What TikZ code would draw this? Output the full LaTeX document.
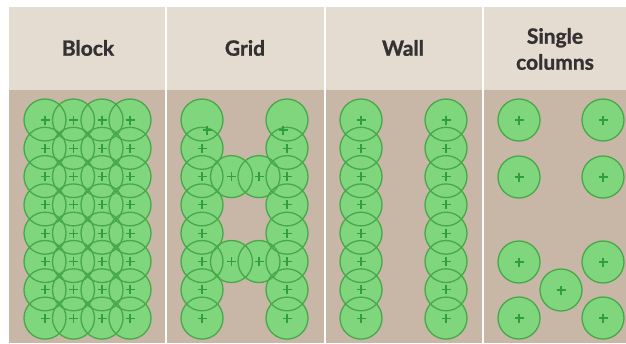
\documentclass[tikz,border=0pt]{standalone}
\usepackage{fontspec}
\setmainfont{Lato}
\newfontfamily\titlefont{Lato}[FakeBold=1.2]
\definecolor{headbg}{HTML}{E4DCD1}
\definecolor{bodybg}{HTML}{C8B7A7}
\definecolor{cfill}{HTML}{80D67C}
\definecolor{cline}{HTML}{47A84B}
\definecolor{cplus}{HTML}{2F9E3E}
\definecolor{txt}{HTML}{333131}
\tikzset{
  head/.style={fill=headbg, draw=none},
  body/.style={fill=bodybg, draw=none},
  title/.style={text=txt, font=\titlefont\bfseries\fontsize{21}{26}\selectfont, align=center, inner sep=0pt},
  pilefill/.style={fill=cfill, draw=none},
  pileline/.style={draw=cline, line width=1.3pt, fill=none},
  plusmark/.style={draw=cplus, line width=1.1pt},
}
\newcommand{\pilelist}{%
  45/120,73.5/120,102/120,130/120,
  45/148.3,73.5/148.3,102/148.3,130/148.3,
  45/176.6,73.5/176.6,102/176.6,130/176.6,
  45/204.9,73.5/204.9,102/204.9,130/204.9,
  45/233.2,73.5/233.2,102/233.2,130/233.2,
  45/261.5,73.5/261.5,102/261.5,130/261.5,
  45/289.8,73.5/289.8,102/289.8,130/289.8,
  45/318.1,73.5/318.1,102/318.1,130/318.1,
  202/120,202/148.3,202/176.6,202/204.9,202/233.2,202/261.5,202/289.8,202/318.1,
  287/120,287/148.3,287/176.6,287/204.9,287/233.2,287/261.5,287/289.8,287/318.1,
  231.5/176.6,259/176.6,231.5/261.5,259/261.5,
  361/120,361/148.3,361/176.6,361/204.9,361/233.2,361/261.5,361/289.8,361/318.1,
  446/120,446/148.3,446/176.6,446/204.9,446/233.2,446/261.5,446/289.8,446/318.1,
  519/120,603/120,519/177,603/177,519/262,603/262,561/290,519/318,603/318}
\newcommand{\pluslist}{%
  45/120,73.5/120,102/120,130/120,
  45/148.3,73.5/148.3,102/148.3,130/148.3,
  45/176.6,73.5/176.6,102/176.6,130/176.6,
  45/204.9,73.5/204.9,102/204.9,130/204.9,
  45/233.2,73.5/233.2,102/233.2,130/233.2,
  45/261.5,73.5/261.5,102/261.5,130/261.5,
  45/289.8,73.5/289.8,102/289.8,130/289.8,
  45/318.1,73.5/318.1,102/318.1,130/318.1,
  207/130,202/148.3,202/176.6,202/204.9,202/233.2,202/261.5,202/289.8,202/318.1,
  283/130,287/148.3,287/176.6,287/204.9,287/233.2,287/261.5,287/289.8,287/318.1,
  231.5/176.6,259/176.6,231.5/261.5,259/261.5,
  361/120,361/148.3,361/176.6,361/204.9,361/233.2,361/261.5,361/289.8,361/318.1,
  446/120,446/148.3,446/176.6,446/204.9,446/233.2,446/261.5,446/289.8,446/318.1,
  519/120,603/120,519/177,603/177,519/262,603/262,561/290,519/318,603/318}
\begin{document}
\begin{tikzpicture}[x=1pt,y=-1pt]
\useasboundingbox (0,0) rectangle (626,343);
\fill[white] (0,0) rectangle (626,343);
% panels
\foreach \xa/\xb in {9/164.5, 166.5/323.5, 325.5/481.5, 483.5/626}{
  \fill[head] (\xa,7) rectangle (\xb,90);
  \fill[body] (\xa,90) rectangle (\xb,343);
}
% piles
\foreach \px/\py in \pilelist { \fill[pilefill] (\px,\py) circle (21); }
\foreach \px/\py in \pilelist { \draw[pileline] (\px,\py) circle (21); }
\foreach \px/\py in \pluslist {
  \draw[plusmark] (\px-4.5,\py) -- (\px+4.5,\py) (\px,\py-4.5) -- (\px,\py+4.5);
}
% titles
\node[title] (tblock) at (88,48) {Block};
\node[title] (tgrid) at (245,48) {Grid};
\node[title] (twall) at (403,48) {Wall};
\node[title] (tsingle) at (555,49) {Single\\columns};
\end{tikzpicture}
\end{document}
